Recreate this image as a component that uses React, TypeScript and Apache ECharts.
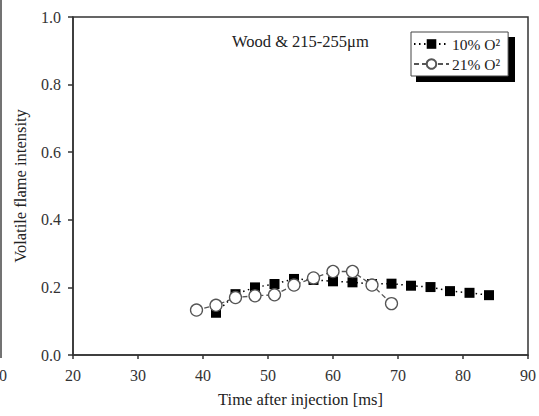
import React, { useEffect, useRef } from "react";
import * as echarts from "echarts";

const xTicks = [20, 30, 40, 50, 60, 70, 80, 90];
const yTicks = [0, 0.2, 0.4, 0.6, 0.8, 1.0];

const t10 = [42, 45, 48, 51, 54, 57, 60, 63, 66, 69, 72, 75, 78, 81, 84];
const v10 = [0.125, 0.18, 0.2, 0.21, 0.225, 0.222, 0.218, 0.215, 0.21, 0.211, 0.205, 0.201, 0.189, 0.184, 0.177];

const t21 = [39, 42, 45, 48, 51, 54, 57, 60, 63, 66, 69];
const v21 = [0.133, 0.147, 0.17, 0.175, 0.178, 0.207, 0.228, 0.247, 0.247, 0.207, 0.152];

const seriesNames = ["10% O²", "21% O²"];
const annotation = "Wood & 215-255μm";
const xName = "Time after injection [ms]";
const yName = "Volatile flame intensity";

const FONT = "Liberation Serif";

export default function App() {
  const ref = useRef<HTMLDivElement>(null);
  useEffect(() => {
    if (!ref.current) return;
    const chart = echarts.init(ref.current, null, { renderer: "svg" });
    chart.setOption({
      animation: false,
      backgroundColor: "#fff",
      textStyle: { fontFamily: FONT },
      grid: {
        left: 73,
        right: 10,
        top: 17,
        bottom: 61,
        show: true,
        borderColor: "#333",
        borderWidth: 1.5,
        backgroundColor: "transparent",
      },
      xAxis: {
        type: "value",
        min: xTicks[0],
        max: xTicks[xTicks.length - 1],
        interval: 10,
        name: xName,
        nameLocation: "middle",
        nameGap: 36,
        nameTextStyle: { fontFamily: FONT, fontSize: 16.5, color: "#222" },
        axisLine: { show: true, lineStyle: { color: "#333", width: 1.5 } },
        axisTick: { show: true, length: 4, lineStyle: { color: "#333", width: 1.5 } },
        axisLabel: { fontFamily: FONT, fontSize: 16, color: "#333", margin: 12 },
        splitLine: { show: false },
      },
      yAxis: {
        type: "value",
        min: yTicks[0],
        max: yTicks[yTicks.length - 1],
        interval: 0.2,
        name: yName,
        nameLocation: "middle",
        nameGap: 44,
        nameTextStyle: { fontFamily: FONT, fontSize: 16.5, color: "#222" },
        axisLine: { show: true, lineStyle: { color: "#333", width: 1.5 } },
        axisTick: { show: true, length: 5, lineStyle: { color: "#333", width: 1.5 } },
        axisLabel: {
          fontFamily: FONT,
          fontSize: 16,
          color: "#333",
          margin: 12,
          formatter: (v: number) => v.toFixed(1),
        },
        splitLine: { show: false },
      },
      legend: {
        orient: "vertical",
        left: 411,
        top: 32,
        data: seriesNames,
        backgroundColor: "#fff",
        borderColor: "#444",
        borderWidth: 1,
        padding: [4, 8, 4, 2],
        itemWidth: 35,
        itemHeight: 12,
        itemGap: 4,
        textStyle: { fontFamily: FONT, fontSize: 15.5, color: "#222", padding: [0, 0, 0, -2] },
        z: 10,
      },
      graphic: [
        {
          type: "rect",
          shape: { x: 416, y: 37, width: 99, height: 45 },
          style: { fill: "#000" },
          z: 1,
        },
        {
          type: "text",
          left: 232,
          top: 33,
          style: { text: annotation, font: `16.5px '${FONT}'`, fill: "#222" },
        },
        {
          type: "line",
          shape: { x1: 1, y1: 0, x2: 1, y2: 358 },
          style: { stroke: "#444", lineWidth: 1.5 },
        },
        {
          type: "text",
          left: -1,
          top: 367,
          style: { text: "0", font: `16px '${FONT}'`, fill: "#333" },
        },
      ],
      series: [
        {
          name: seriesNames[0],
          type: "line",
          data: t10.map((t, i) => [t, v10[i]]),
          symbol: "rect",
          symbolSize: 10,
          itemStyle: { color: "#000" },
          lineStyle: { color: "#000", width: 1.5, type: [1.5, 3.5] },
          z: 3,
        },
        {
          name: seriesNames[1],
          type: "line",
          data: t21.map((t, i) => [t, v21[i]]),
          symbol: "circle",
          symbolSize: 12,
          itemStyle: { color: "#fff", borderColor: "#555", borderWidth: 1.3 },
          lineStyle: { color: "#555", width: 1.3, type: [5, 3] },
          z: 4,
        },
      ],
    });
    return () => chart.dispose();
  }, []);
  return <div ref={ref} style={{ width: 539, height: 416, position: "absolute", left: 0, top: 0 }} />;
}
